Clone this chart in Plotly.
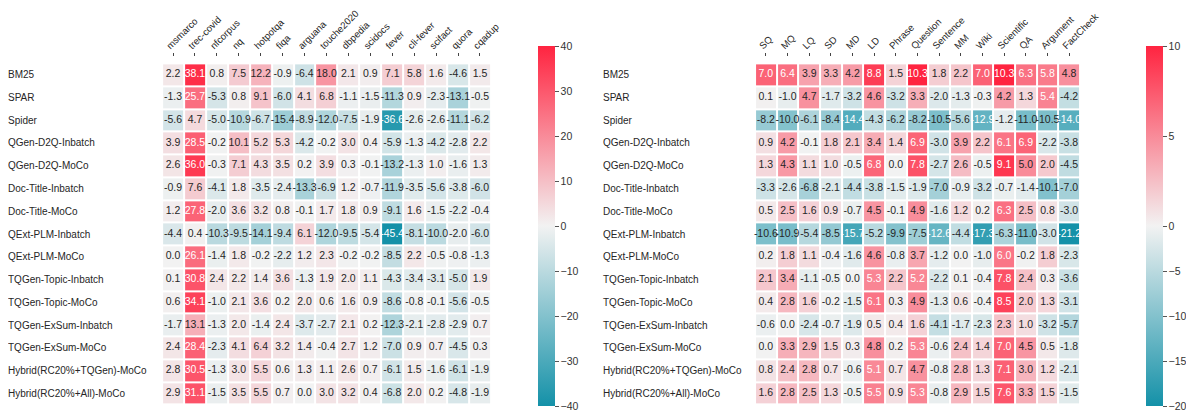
import numpy as np
import plotly.graph_objects as go

rows = ["BM25", "SPAR", "Spider", "QGen-D2Q-Inbatch", "QGen-D2Q-MoCo",
        "Doc-Title-Inbatch", "Doc-Title-MoCo", "QExt-PLM-Inbatch", "QExt-PLM-MoCo",
        "TQGen-Topic-Inbatch", "TQGen-Topic-MoCo", "TQGen-ExSum-Inbatch",
        "TQGen-ExSum-MoCo", "Hybrid(RC20%+TQGen)-MoCo", "Hybrid(RC20%+All)-MoCo"]

left_cols = ["msmarco", "trec-covid", "nfcorpus", "nq", "hotpotqa", "fiqa", "arguana",
             "touche2020", "dbpedia", "scidocs", "fever", "cli-fever", "scifact",
             "quora", "cqadup"]

left_vals = [
    [2.2, 38.1, 0.8, 7.5, 12.2, -0.9, -6.4, 18.0, 2.1, 0.9, 7.1, 5.8, 1.6, -4.6, 1.5],
    [-1.3, 25.7, -5.3, 0.8, 9.1, -6.0, 4.1, 6.8, -1.1, -1.5, -11.3, 0.9, -2.3, -13.1, -0.5],
    [-5.6, 4.7, -5.0, -10.9, -6.7, -15.4, -8.9, -12.0, -7.5, -1.9, -36.6, -2.6, -2.6, -11.1, -6.2],
    [3.9, 28.5, -0.2, 10.1, 5.2, 5.3, -4.2, -0.2, 3.0, 0.4, -5.9, -1.3, -4.2, -2.8, 2.2],
    [2.6, 36.0, -0.3, 7.1, 4.3, 3.5, 0.2, 3.9, 0.3, -0.1, -13.2, -1.3, 1.0, -1.6, 1.3],
    [-0.9, 7.6, -4.1, 1.8, -3.5, -2.4, -13.3, -6.9, 1.2, -0.7, -11.9, -3.5, -5.6, -3.8, -6.0],
    [1.2, 27.8, -2.0, 3.6, 3.2, 0.8, -0.1, 1.7, 1.8, 0.9, -9.1, 1.6, -1.5, -2.2, -0.4],
    [-4.4, 0.4, -10.3, -9.5, -14.1, -9.4, 6.1, -12.0, -9.5, -5.4, -45.4, -8.1, -10.0, -2.0, -6.0],
    [0.0, 26.1, -1.4, 1.8, -0.2, -2.2, 1.2, 2.3, -0.2, -0.2, -8.5, 2.2, -0.5, -0.8, -1.3],
    [0.1, 30.8, 2.4, 2.2, 1.4, 3.6, -1.3, 1.9, 2.0, 1.1, -4.3, -3.4, -3.1, -5.0, 1.9],
    [0.6, 34.1, -1.0, 2.1, 3.6, 0.2, 2.0, 0.6, 1.6, 0.9, -8.6, -0.8, -0.1, -5.6, -0.5],
    [-1.7, 13.1, -1.3, 2.0, -1.4, 2.4, -3.7, -2.7, 2.1, 0.2, -12.3, -2.1, -2.8, -2.9, 0.7],
    [2.4, 28.4, -2.3, 4.1, 6.4, 3.2, 1.4, -0.4, 2.7, 1.2, -7.0, 0.9, 0.7, -4.5, 0.3],
    [2.8, 30.5, -1.3, 3.0, 5.5, 0.6, 1.3, 1.1, 2.6, 0.7, -6.1, 1.5, -1.6, -6.1, -1.9],
    [2.9, 31.1, -1.5, 3.5, 5.5, 0.7, 0.0, 3.0, 3.2, 0.4, -6.8, 2.0, 0.2, -4.8, -1.9],
]

right_cols = ["SQ", "MQ", "LQ", "SD", "MD", "LD", "Phrase", "Question", "Sentence", "MM",
              "Wiki", "Scientific", "QA", "Argument", "FactCheck"]

right_vals = [
    [7.0, 6.4, 3.9, 3.3, 4.2, 8.8, 1.5, 10.3, 1.8, 2.2, 7.0, 10.3, 6.3, 5.8, 4.8],
    [0.1, -1.0, 4.7, -1.7, -3.2, 4.6, -3.2, 3.3, -2.0, -1.3, -0.3, 4.2, 1.3, 5.4, -4.2],
    [-8.2, -10.0, -6.1, -8.4, -14.4, -4.3, -6.2, -8.2, -10.5, -5.6, -12.9, -1.2, -11.0, -10.5, -14.0],
    [0.9, 4.2, -0.1, 1.8, 2.1, 3.4, 1.4, 6.9, -3.0, 3.9, 2.2, 6.1, 6.9, -2.2, -3.8],
    [1.3, 4.3, 1.1, 1.0, -0.5, 6.8, 0.0, 7.8, -2.7, 2.6, -0.5, 9.1, 5.0, 2.0, -4.5],
    [-3.3, -2.6, -6.8, -2.1, -4.4, -3.8, -1.5, -1.9, -7.0, -0.9, -3.2, -0.7, -1.4, -10.1, -7.0],
    [0.5, 2.5, 1.6, 0.9, -0.7, 4.5, -0.1, 4.9, -1.6, 1.2, 0.2, 6.3, 2.5, 0.8, -3.0],
    [-10.6, -10.9, -5.4, -8.5, -15.7, -5.2, -9.9, -7.5, -12.6, -4.4, -17.3, -6.3, -11.0, -3.0, -21.2],
    [0.2, 1.8, 1.1, -0.4, -1.6, 4.6, -0.8, 3.7, -1.2, 0.0, -1.0, 6.0, -0.2, 1.8, -2.3],
    [2.1, 3.4, -1.1, -0.5, 0.0, 5.3, 2.2, 5.2, -2.2, 0.1, -0.4, 7.8, 2.4, 0.3, -3.6],
    [0.4, 2.8, 1.6, -0.2, -1.5, 6.1, 0.3, 4.9, -1.3, 0.6, -0.4, 8.5, 2.0, 1.3, -3.1],
    [-0.6, 0.0, -2.4, -0.7, -1.9, 0.5, 0.4, 1.6, -4.1, -1.7, -2.3, 2.3, 1.0, -3.2, -5.7],
    [0.0, 3.3, 2.9, 1.5, 0.3, 4.8, 0.2, 5.3, -0.6, 2.4, 1.4, 7.0, 4.5, 0.5, -1.8],
    [0.8, 2.4, 2.8, 0.7, -0.6, 5.1, 0.7, 4.7, -0.8, 2.8, 1.3, 7.1, 3.0, 1.2, -2.1],
    [1.6, 2.8, 2.5, 1.3, -0.5, 5.5, 0.9, 5.3, -0.8, 2.9, 1.5, 7.6, 3.3, 1.5, -1.5],
]

left_range = (-40, 40)
right_range = (-20, 10)
left_ticks = [40, 30, 20, 10, 0, -10, -20, -30, -40]
right_ticks = [10, 5, 0, -5, -10, -15, -20]

LOW = (20, 145, 168)
MID = (242, 242, 242)
HIGH = (255, 36, 64)
colorscale = [[0.0, "rgb(20,145,168)"], [0.5, "rgb(242,242,242)"], [1.0, "rgb(255,36,64)"]]
FONT = "Arial, Liberation Sans, Helvetica, sans-serif"


def norm(v, vmin, vmax):
    # two-slope normalisation around 0 -> [-1, 1]
    v = np.asarray(v, dtype=float)
    out = np.where(v >= 0, v / vmax, v / (-vmin))
    return np.clip(out, -1, 1)


def cell_rgb(t):
    if t >= 0:
        a, b = MID, HIGH
    else:
        a, b, t = MID, LOW, -t
    return [(a[i] + (b[i] - a[i]) * t) / 255.0 for i in range(3)]


def lum(rgb):
    lin = [c / 12.92 if c <= 0.03928 else ((c + 0.055) / 1.055) ** 2.4 for c in rgb]
    return 0.2126 * lin[0] + 0.7152 * lin[1] + 0.0722 * lin[2]


def tick_label(v):
    return str(v).replace("-", "\u2212")


fig = go.Figure()

panels = [
    (left_cols, left_vals, left_range, left_ticks, "x", "y", "coloraxis"),
    (right_cols, right_vals, right_range, right_ticks, "x2", "y2", "coloraxis2"),
]

for cols, vals, (vmin, vmax), ticks, xa, ya, ca in panels:
    z = norm(vals, vmin, vmax)
    fig.add_trace(go.Heatmap(
        z=z, x=cols, y=rows, coloraxis=ca, xgap=2, ygap=2,
        xaxis=xa, yaxis=ya, hoverinfo="skip"))
    tx, ty, tt, tc = [], [], [], []
    for i, r in enumerate(rows):
        for j, c in enumerate(cols):
            tx.append(c)
            ty.append(r)
            tt.append(f"{vals[i][j]:.1f}")
            tc.append("#262626" if lum(cell_rgb(z[i][j])) > 0.408 else "#ffffff")
    fig.add_trace(go.Scatter(
        x=tx, y=ty, text=tt, mode="text", xaxis=xa, yaxis=ya,
        textfont=dict(color=tc, size=10.5, family=FONT), hoverinfo="skip",
        showlegend=False))

W, H = 1194, 412
T, B = 49, 9
plot_h = H - T - B

axis_common_x = dict(side="top", tickangle=-45, ticks="outside", ticklen=3,
                     tickcolor="#444", ticklabelshift=-6, ticklabelstandoff=-2,
                     tickfont=dict(size=9.6, color="#262626", family=FONT),
                     showgrid=False, zeroline=False, showline=False, automargin=False)
axis_common_y = dict(autorange="reversed", showticklabels=False, showgrid=False,
                     zeroline=False, showline=False, ticks="")

cb_common = dict(thickness=17, lenmode="pixels", len=360, yanchor="middle",
                 y=(H - B - 218) / plot_h, xanchor="left", xpad=0, ypad=0,
                 outlinewidth=0, ticks="outside", ticklen=4, tickcolor="#555",
                 tickfont=dict(size=10.5, color="#333", family=FONT))


def cbar(ticks, vmin, vmax, x):
    d = dict(cb_common)
    d.update(x=x, tickmode="array",
             tickvals=[float(norm(t, vmin, vmax)) for t in ticks],
             ticktext=[tick_label(t) for t in ticks])
    return d


fig.update_layout(
    width=W, height=H,
    margin=dict(l=0, r=0, t=T, b=B),
    paper_bgcolor="white", plot_bgcolor="white",
    font=dict(family=FONT, size=10, color="#262626"),
    showlegend=False,
    xaxis=dict(domain=[148 / W, 489 / W], anchor="y", **axis_common_x),
    yaxis=dict(domain=[0, 1], anchor="x", **axis_common_y),
    xaxis2=dict(domain=[741 / W, 1078 / W], anchor="y2", **axis_common_x),
    yaxis2=dict(domain=[0, 1], anchor="x2", **axis_common_y),
    coloraxis=dict(colorscale=colorscale, cmin=-1, cmax=1,
                   colorbar=cbar(left_ticks, *left_range, 530 / W)),
    coloraxis2=dict(colorscale=colorscale, cmin=-1, cmax=1,
                    colorbar=cbar(right_ticks, *right_range, 1138 / W)),
)

annotations = []
for r in rows:
    annotations.append(dict(x=-2 / W, y=r, xref="paper", yref="y", text=r,
                            showarrow=False, xanchor="left", yanchor="middle",
                            font=dict(size=10, color="#262626", family=FONT)))
    annotations.append(dict(x=593 / W, y=r, xref="paper", yref="y2", text=r,
                            showarrow=False, xanchor="left", yanchor="middle",
                            font=dict(size=10, color="#262626", family=FONT)))
fig.update_layout(annotations=annotations)

fig.write_html("out.html")
